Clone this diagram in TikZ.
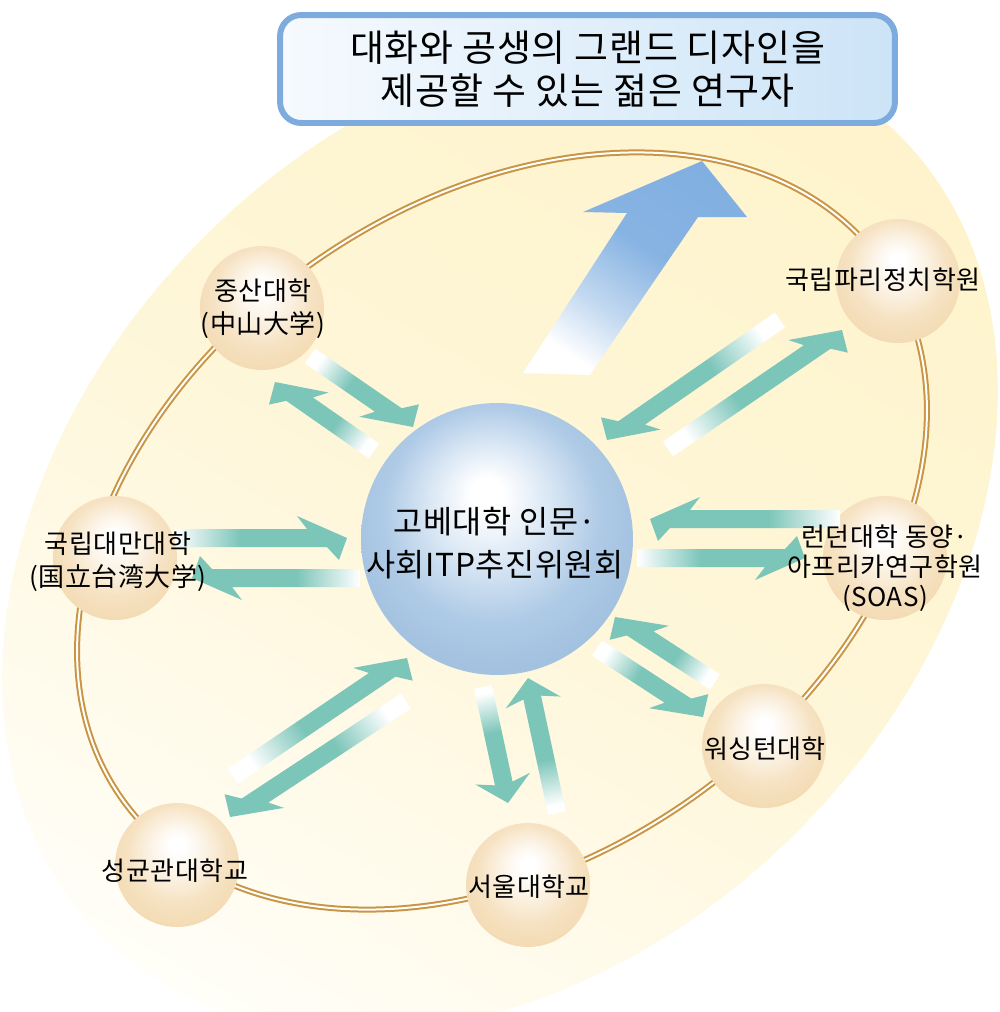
\documentclass[tikz,border=0pt]{standalone}
\usepackage{fontspec}
\setmainfont{Noto Sans CJK KR}[LetterSpace=2]
\usetikzlibrary{calc}

\definecolor{bgyel}{HTML}{FEF3CB}
\definecolor{bgpale}{HTML}{FFFEF8}
\definecolor{ringbrn}{HTML}{C99545}
\definecolor{tanhi}{HTML}{FBF1E1}
\definecolor{tanmid}{HTML}{F6E2C2}
\definecolor{tanrim}{HTML}{F3DBB3}
\definecolor{bluehi}{HTML}{D5E4F3}
\definecolor{bluemid}{HTML}{AECAE6}
\definecolor{bluerim}{HTML}{A3C2E0}
\definecolor{tealc}{HTML}{7CC5B9}
\definecolor{arrblue}{HTML}{7AABDF}
\definecolor{boxline}{HTML}{7DABDD}
\definecolor{boxL}{HTML}{F6FAFE}
\definecolor{boxR}{HTML}{CCE4F7}

\pgfdeclareradialshading{tanball}{\pgfpoint{0bp}{9bp}}{color(0bp)=(white); color(3bp)=(white); color(12bp)=(tanhi); color(20bp)=(tanmid); color(28bp)=(tanrim); color(40bp)=(tanrim)}
\pgfdeclareradialshading{coreball}{\pgfpoint{-2bp}{9bp}}{color(0bp)=(white); color(3bp)=(white); color(12bp)=(bluehi); color(20bp)=(bluemid); color(27bp)=(bluerim); color(40bp)=(bluerim)}
\pgfdeclareverticalshading{tealfade}{100bp}{color(0bp)=(white); color(25bp)=(white); color(44bp)=(tealc); color(100bp)=(tealc)}
\pgfdeclareverticalshading{bluefade}{100bp}{color(0bp)=(white); color(25bp)=(white); color(38bp)=(arrblue!45); color(55bp)=(arrblue!90); color(100bp)=(arrblue)}

\newcommand\titlefont{\fontsize{21pt}{24.4pt}\selectfont}
\newcommand\corefont{\fontsize{18pt}{24.4pt}\selectfont}
\newcommand\unifont{\fontsize{14.8pt}{18.7pt}\selectfont}
\newcommand\soasfont{\fontsize{14.8pt}{17pt}\selectfont}

% fat arrow from #1 (tail) to #2 (tip); #3/#4 = back of left/right barb, #5 = barb reach
\newcommand\flowarrow[5]{%
  \pgfmathsetmacro\lj{max(#3-0.2,0.4)}%
  \pgfmathsetmacro\rj{max(#4-0.2,0.4)}%
  \pgfmathanglebetweenpoints{\pgfpointanchor{#1}{center}}{\pgfpointanchor{#2}{center}}%
  \pgfmathsetmacro\fa{\pgfmathresult-90}%
  \coordinate (ql) at ($(#2)!#3cm!(#1)$);
  \coordinate (qlj) at ($(#2)!\lj cm!(#1)$);
  \coordinate (qr) at ($(#2)!#4cm!(#1)$);
  \coordinate (qrj) at ($(#2)!\rj cm!(#1)$);
  \shade[shading=tealfade, shading angle=\fa]
    ($(#1)!0.18cm!90:(#2)$) -- ($(qlj)!0.18cm!90:(#2)$) -- ($(ql)!#5cm!90:(#2)$) -- (#2)
    -- ($(qr)!#5cm!-90:(#2)$) -- ($(qrj)!0.18cm!-90:(#2)$) -- ($(#1)!0.18cm!-90:(#2)$) -- cycle;
}

\begin{document}
\begin{tikzpicture}[x=0.02cm, y=-0.02cm,
    sphere/.style={circle, inner sep=0pt, minimum size=2.48cm, shade, shading=tanball},
    core/.style={circle, inner sep=0pt, minimum size=5.44cm, shade, shading=coreball},
    unitext/.style={align=center, font=\unifont, inner sep=0pt},
    coretext/.style={align=center, font=\corefont, inner sep=0pt},
    ring/.style={draw=ringbrn, line width=0.4mm, double=white, double distance=0.4mm},
    titlebox/.style={draw=boxline, line width=3.4pt, rounded corners=12pt, left color=boxL, right color=boxR,
      minimum width=12.3cm, minimum height=2.16cm, align=center, font=\titlefont}]
  \clip (0,0) rectangle (1000,1012);

  % background and orbit
  \shade[top color=bgyel, bottom color=bgpale, middle color=bgyel!70!bgpale, shading angle=-30,
    rotate around={45:(500,535)}] (500,535) ellipse [x radius=565, y radius=420];
  \draw[ring, rotate around={35:(502,531)}] (502,531) ellipse [x radius=465, y radius=328];

  % universities
  \node[sphere] (zs) at (262,308) {};
  \node[sphere] (tw) at (115,558) {};
  \node[sphere] (sk) at (177,865) {};
  \node[sphere] (sn) at (528,885) {};
  \node[sphere] (ws) at (764,746) {};
  \node[sphere] (so) at (885,558) {};
  \node[sphere] (pr) at (898,281) {};
  \node[core] (ctr) at (497,539) {};

  % exchange arrows
  \coordinate (zi0) at (310,356); \coordinate (zi1) at (413,427);
  \coordinate (zo0) at (374,451); \coordinate (zo1) at (275,382);
  \coordinate (po0) at (668,449); \coordinate (po1) at (842,330);
  \coordinate (pi0) at (780,320); \coordinate (pi1) at (607,440);
  \coordinate (ti0) at (175,538); \coordinate (ti1) at (347,538);
  \coordinate (to0) at (360,578); \coordinate (to1) at (192,578);
  \coordinate (oi0) at (840,519); \coordinate (oi1) at (650,519);
  \coordinate (oo0) at (637,558); \coordinate (oo1) at (805,558);
  \coordinate (so0) at (483,687); \coordinate (so1) at (508,803);
  \coordinate (si0) at (557,813); \coordinate (si1) at (528,678);
  \coordinate (ki0) at (233,776); \coordinate (ki1) at (407,658);
  \coordinate (ko0) at (406,701); \coordinate (ko1) at (230,817);
  \coordinate (wo0) at (597,648); \coordinate (wo1) at (703,717);
  \coordinate (wi0) at (715,682); \coordinate (wi1) at (615,617);

  \flowarrow{zi0}{zi1}{0.16}{1.0}{0.44}
  \flowarrow{zo0}{zo1}{0.16}{1.0}{0.44}
  \flowarrow{po0}{po1}{1.0}{0.16}{0.44}
  \flowarrow{pi0}{pi1}{1.0}{0.16}{0.44}
  \flowarrow{ti0}{ti1}{1.0}{0.16}{0.44}
  \flowarrow{to0}{to1}{1.0}{0.16}{0.44}
  \flowarrow{oi0}{oi1}{0.16}{1.0}{0.44}
  \flowarrow{oo0}{oo1}{0.16}{1.0}{0.44}
  \flowarrow{so0}{so1}{0.5}{0.5}{0.56}
  \flowarrow{si0}{si1}{0.5}{0.5}{0.56}
  \flowarrow{ki0}{ki1}{1.0}{0.16}{0.44}
  \flowarrow{ko0}{ko1}{1.0}{0.16}{0.44}
  \flowarrow{wo0}{wo1}{0.16}{1.0}{0.44}
  \flowarrow{wi0}{wi1}{0.16}{1.0}{0.44}

  % big arrow up to the goal
  \shade[shading=bluefade, shading angle=-34] (523,373) -- (627,213) -- (583,212) -- (702,161)
    -- (747,217) -- (698,217) -- (590,375) -- cycle;

  % labels
  \node[coretext] (ctr-t) at (495,543) {고베대학 인문·\\사회ITP추진위원회};
  \node[unitext] (zs-t) at (263,309) {중산대학\\(中山大学)};
  \node[unitext] (tw-t) at (118,562) {국립대만대학\\(国立台湾大学)};
  \node[unitext] (sk-t) at (175,871) {성균관대학교};
  \node[unitext] (sn-t) at (529,887) {서울대학교};
  \node[unitext] (ws-t) at (765,749) {워싱턴대학};
  \node[unitext, font=\soasfont] (so-t) at (885,568) {런던대학 동양·\\아프리카연구학원\\(SOAS)};
  \node[unitext] (pr-t) at (883,280) {국립파리정치학원};

  \node[titlebox] (ttl) at (587.5,69) {대화와 공생의 그랜드 디자인을\\제공할 수 있는 젊은 연구자};
\end{tikzpicture}
\end{document}
